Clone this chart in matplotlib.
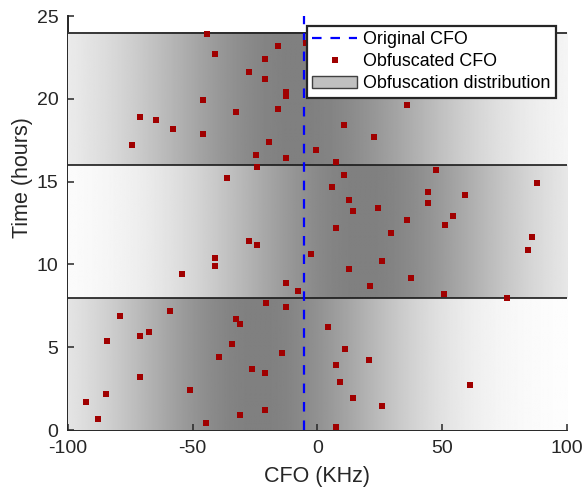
import numpy as np
import matplotlib
matplotlib.use("Agg")
import matplotlib.pyplot as plt
from matplotlib.lines import Line2D
from matplotlib.patches import Patch

plt.rcParams['font.family'] = ['Liberation Sans', 'DejaVu Sans']

# ---- data ----
original_cfo = -5.5
band_edges = [0, 8, 16, 24]          # time windows (hours)
band_centers = [-24, 18, -8]          # centre of obfuscation distribution per window (KHz)
band_sigma = [43, 45, 48]

obf_x = [-44.4, -16, -41.1, -21, -27.6, -21, -12.6, -12.6, -46, -16, -32.8, -71.1, -64.7,
         -58, -46, -74.5, -19.4, -24.6, -12.6, -4.5, -0.7, 35.9, 10.6, 22.5, 7.3,
         -24.4, 47.5, -36.4, 10.5, 5.8, 87.8, 44.2, 12.5, 44.2, 59.1, 14.1, 24.2, 54.3,
         35.9, 51, 7.4, 29.3, 86, 84.4, -2.7, 25.7, 12.5, 37.5, 20.9, 50.7, 76.1,
         -27.6, -24.4, -41.2, -41.2, -54.3, -12.6, -7.8,
         -20.8, -12.5, -79.3, -59.2, -32.7, -31.1, -67.7, -71.1, -84.4, -34.3, -14.2,
         -39.4, -26.3, -21, -71.1, -51.1, -84.8, -92.9, -21, -31.1, -88.1, -44.7,
         4.1, 10.9, 7.4, 20.5, 9, 61.1, 14.1, 25.9, 7.4]
obf_y = [23.9, 23.2, 22.7, 22.4, 21.6, 21.2, 20.4, 20.15, 19.9, 19.4, 19.2, 18.9, 18.7,
         18.2, 17.9, 17.2, 17.4, 16.6, 16.4, 23.4, 16.9, 19.65, 18.4, 17.7, 16.2,
         15.9, 15.7, 15.2, 15.4, 14.65, 14.9, 14.4, 13.9, 13.7, 14.2, 13.2, 13.4, 12.9,
         12.7, 12.4, 12.2, 11.9, 11.65, 10.9, 10.65, 10.2, 9.7, 9.2, 8.7, 8.2, 7.95,
         11.4, 11.2, 10.4, 9.9, 9.4, 8.9, 8.4,
         7.7, 7.4, 6.9, 7.2, 6.7, 6.4, 5.9, 5.7, 5.4, 5.2, 4.67,
         4.4, 3.7, 3.45, 3.2, 2.4, 2.2, 1.7, 1.2, 0.92, 0.68, 0.44,
         6.2, 4.9, 3.9, 4.2, 2.9, 2.7, 1.95, 1.45, 0.2]

xticks = [-100, -50, 0, 50, 100]
yticks = [0, 5, 10, 15, 20, 25]

# ---- figure ----
fig = plt.figure(figsize=(5.85, 4.91), dpi=100)
ax = fig.add_axes([0.1162, 0.1242, 0.8530, 0.8432])

xs = np.linspace(-100, 100, 600)
for i in range(3):
    g = 1 - 0.5 * np.exp(-(xs - band_centers[i]) ** 2 / (2 * band_sigma[i] ** 2))
    img = np.tile(g, (2, 1))
    ax.imshow(img, cmap='gray', vmin=0, vmax=1, aspect='auto', interpolation='bilinear',
              extent=[-100, 100, band_edges[i], band_edges[i + 1]], zorder=1)
ax.hlines(band_edges[1:], -100, 100, colors='#1a1a1a', linewidth=1.2, zorder=2)

ax.plot([original_cfo, original_cfo], [0, 25], color='#0000ff', linewidth=1.6,
        dashes=(4.3, 4.0), zorder=3)
ax.plot(obf_x, obf_y, linestyle='none', marker='s', markersize=4.3,
        color='#a00000', markeredgewidth=0, zorder=4)

ax.set_xlim(-100, 100)
ax.set_ylim(0, 25)
ax.set_xticks(xticks)
ax.set_yticks(yticks)
ax.set_xticklabels([str(t) for t in xticks])
ax.tick_params(direction='in', length=4, width=1.1, colors='#262626', labelsize=14,
               pad=7, top=False, right=False)
for s in ['top', 'right']:
    ax.spines[s].set_visible(False)
for s in ['left', 'bottom']:
    ax.spines[s].set_color('#262626')
    ax.spines[s].set_linewidth(1.4)
    ax.spines[s].set_zorder(0.5)

ax.set_xlabel('CFO (KHz)', fontsize=15.5, color='#262626', labelpad=7)
ax.set_ylabel('Time (hours)', fontsize=15.5, color='#262626')
ax.yaxis.set_label_coords(-0.07, 0.61)

handles = [Line2D([0], [0], color='#0000ff', linewidth=1.6, dashes=(4.3, 4.0)),
           Line2D([0], [0], linestyle='none', marker='s', markersize=4.3,
                  color='#a00000', markeredgewidth=0),
           Patch(facecolor='#c0c0c0', edgecolor='#404040', linewidth=1.0)]
labels = ['Original CFO', 'Obfuscated CFO', 'Obfuscation distribution']
leg = ax.legend(handles, labels, loc='upper right', bbox_to_anchor=(0.978, 0.976),
                fontsize=12.9, frameon=True, fancybox=False, framealpha=1,
                edgecolor='#262626', borderpad=0.3, labelspacing=0.28,
                handlelength=2.5, handletextpad=0.35, borderaxespad=0)
leg.get_frame().set_linewidth(1.6)
leg.set_zorder(10)

fig.savefig('out.png', dpi=100)
